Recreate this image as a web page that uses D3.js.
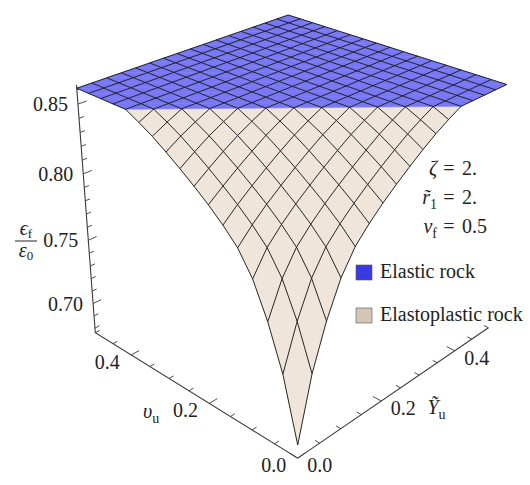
<!DOCTYPE html>
<html>
<head>
<meta charset="utf-8">
<title>Strain ratio surface</title>
<script src="https://cdn.jsdelivr.net/npm/d3@7"></script>
<style>
  body { margin: 0; background: #fff; }
  .axis { stroke: #3a3a3a; stroke-width: 1.1; fill: none; }
  .tick { stroke: #3a3a3a; stroke-width: 0.9; }
  .mesh { stroke: #1c1c1c; stroke-width: 0.95; fill: none; stroke-linejoin: round; }
  .lbl { font-family: "Liberation Serif", "DejaVu Serif", "Times New Roman", Times, serif; font-size: 20px; fill: #222; }
</style>
</head>
<body>
<div id="chart"></div>
<script>
// mesh positions on both horizontal axes (upsilon_u and Y_u), 16 cells
const meshSteps = [0, 0.03125, 0.0625, 0.09375, 0.125, 0.15625, 0.1875, 0.21875, 0.25,
  0.28125, 0.3125, 0.34375, 0.375, 0.40625, 0.4375, 0.46875, 0.5];

// eps_f / eps_0; the surface only depends on upsilon_u + Y_u,
// so it is listed by the number of mesh steps in that sum (0 .. 32)
const ratioBySum = [0.686, 0.731, 0.762, 0.786, 0.802, 0.8125, 0.8215, 0.8295, 0.837,
  0.844, 0.8505, 0.856, 0.861, 0.861, 0.861, 0.861, 0.861, 0.861, 0.861, 0.861, 0.861,
  0.861, 0.861, 0.861, 0.861, 0.861, 0.861, 0.861, 0.861, 0.861, 0.861, 0.861, 0.861];
const elasticFrom = 12; // step sum where the elastic plateau starts

const zTicks = [0.70, 0.75, 0.80, 0.85];
const zMinor = [0.68, 0.69, 0.71, 0.72, 0.73, 0.74, 0.76, 0.77, 0.78, 0.79, 0.81, 0.82, 0.83, 0.84, 0.86];
const hTicks = [0.0, 0.2, 0.4];
const hMinor = [0.05, 0.1, 0.15, 0.25, 0.3, 0.35, 0.45, 0.5];
const params = [["ζ", "", "2."], ["r\u0303", "1", "2."], ["ν", "f", "0.5"]];
const legendItems = [["Elastic rock", "#3b3be6"], ["Elastoplastic rock", "#d5c5b5"]];

const width = 530, height = 485;
const svg = d3.select("#chart").append("svg")
  .attr("width", width).attr("height", height)
  .attr("viewBox", [0, 0, width, height]);

// data -> box units
const xs = d3.scaleLinear().domain([0, 0.5]).range([0, 1]);
const ys = d3.scaleLinear().domain([0, 0.5]).range([0, 1]);
const zs = d3.scaleLinear().domain([0.6762, 0.8633]).range([0, 0.9607]);

// perspective camera looking at the box from the origin corner
const view = { az: 46.3, el: 24.3, dist: 3.844, camH: 2.543, focal: 1265, cx: 292.5, cy: 125.6 };
const rad = Math.PI / 180;
const ca = Math.cos(view.az * rad), sa = Math.sin(view.az * rad);
const ct = Math.cos(view.el * rad), st = Math.sin(view.el * rad);
const eye = [0.5 - view.dist * ca, 0.5 - view.dist * sa, view.camH];
const fwd = [ct * ca, ct * sa, -st], right = [-sa, ca, 0], up = [st * ca, st * sa, ct];

function project(a, b, c) {
  const p = [xs(a) - eye[0], ys(b) - eye[1], zs(c) - eye[2]];
  const dot = (q) => p[0] * q[0] + p[1] * q[1] + p[2] * q[2];
  const d = dot(fwd);
  return [view.cx + view.focal * dot(right) / d, view.cy - view.focal * dot(up) / d];
}

const zLo = zs.domain()[0], zHi = zs.domain()[1];
const line = d3.line();

// axes (box edges)
const gAxes = svg.append("g");
gAxes.append("path").attr("class", "axis")
  .attr("d", line([project(0, 0, zLo), project(0.5, 0, zLo), project(0.5, 0, zHi)]));
gAxes.append("path").attr("class", "axis")
  .attr("d", line([project(0, 0, zLo), project(0, 0.5, zLo)]));

// ticks
function tickSeg(p0, p1) {
  gAxes.append("path").attr("class", "tick").attr("d", line([p0, p1]));
}
zTicks.forEach((t) => tickSeg(project(0.5, 0, t), project(0.5, 0.018, t)));
zMinor.forEach((t) => tickSeg(project(0.5, 0, t), project(0.5, 0.01, t)));
hTicks.forEach((t) => {
  tickSeg(project(t, 0, zLo), project(t, 0.018, zLo));
  tickSeg(project(0, t, zLo), project(0.018, t, zLo));
});
hMinor.forEach((t) => {
  tickSeg(project(t, 0, zLo), project(t, 0.01, zLo));
  tickSeg(project(0, t, zLo), project(0.01, t, zLo));
});

// tick labels
const fz = d3.format(".2f"), fh = d3.format(".1f");
zTicks.forEach((t) => {
  const [x, y] = project(0.5, 0, t);
  svg.append("text").attr("class", "lbl").attr("x", x - 10).attr("y", y + 7)
    .attr("text-anchor", "end").text(fz(t));
});
hTicks.forEach((t) => {
  const [x1, y1] = project(t, 0, zLo);
  svg.append("text").attr("class", "lbl").attr("x", x1 - 24).attr("y", y1 + 14)
    .attr("text-anchor", "middle").text(fh(t));
  const [x2, y2] = project(0, t, zLo);
  svg.append("text").attr("class", "lbl").attr("x", x2 + 22).attr("y", y2 + 14)
    .attr("text-anchor", "middle").text(fh(t));
});

// axis titles
{
  const [x, y] = project(0.25, 0, zLo);
  const t = svg.append("text").attr("class", "lbl").attr("x", x - 46).attr("y", y + 27);
  t.append("tspan").attr("font-style", "italic").text("υ");
  t.append("tspan").attr("font-size", 14).attr("dy", 5).text("u");
}
{
  const [x, y] = project(0, 0.25, zLo);
  const t = svg.append("text").attr("class", "lbl").attr("x", x + 27).attr("y", y + 26);
  t.append("tspan").attr("font-style", "italic").text("Ỹ");
  t.append("tspan").attr("font-size", 14).attr("dy", 5).text("u");
}
{
  const g = svg.append("g");
  const n = g.append("text").attr("class", "lbl").attr("x", 26).attr("y", 235)
    .attr("text-anchor", "middle").attr("font-size", 19);
  n.append("tspan").attr("font-style", "italic").text("ϵ");
  n.append("tspan").attr("font-size", 13).attr("dy", 3).text("f");
  g.append("line").attr("x1", 15).attr("x2", 37).attr("y1", 241).attr("y2", 241)
    .attr("stroke", "#222").attr("stroke-width", 1);
  const dn = g.append("text").attr("class", "lbl").attr("x", 26).attr("y", 257)
    .attr("text-anchor", "middle").attr("font-size", 19);
  dn.append("tspan").attr("font-style", "italic").text("ε");
  dn.append("tspan").attr("font-size", 13).attr("dy", 3).text("0");
}

// surface: cells split along the lines of constant upsilon + Y
const n = meshSteps.length;
const P = (i, j) => project(meshSteps[i], meshSteps[j], ratioBySum[i + j]);
const tris = [];
for (let i = 0; i < n - 1; i++) {
  for (let j = 0; j < n - 1; j++) {
    tris.push({ pts: [P(i, j), P(i + 1, j), P(i, j + 1)], elastic: i + j >= elasticFrom });
    tris.push({ pts: [P(i + 1, j), P(i + 1, j + 1), P(i, j + 1)], elastic: i + j + 1 >= elasticFrom });
  }
}
const fillOf = (d) => (d.elastic ? "#7878f7" : "#efe5da");
svg.append("g").selectAll("path").data(tris).join("path")
  .attr("d", (d) => line(d.pts) + "Z")
  .attr("fill", fillOf).attr("stroke", fillOf).attr("stroke-width", 0.6);

const gMesh = svg.append("g");
d3.range(n).forEach((i) => {
  gMesh.append("path").attr("class", "mesh").attr("d", line(d3.range(n).map((j) => P(i, j))));
  gMesh.append("path").attr("class", "mesh").attr("d", line(d3.range(n).map((j) => P(j, i))));
});

// parameter annotation, aligned on "="
params.forEach(([sym, sub, val], k) => {
  const y = 175 + k * 29;
  const t = svg.append("text").attr("class", "lbl").attr("x", 437).attr("y", y).attr("text-anchor", "end");
  t.append("tspan").attr("font-style", "italic").text(sym);
  if (sub) t.append("tspan").attr("font-size", 14).attr("dy", 5).text(sub);
  svg.append("text").attr("class", "lbl").attr("x", 449).attr("y", y).attr("font-size", 24)
    .attr("text-anchor", "middle").text("=");
  svg.append("text").attr("class", "lbl").attr("x", 462).attr("y", y).text(val);
});

// legend
const leg = svg.append("g").attr("transform", "translate(356,265)");
legendItems.forEach(([name, col], k) => {
  const g = leg.append("g").attr("transform", `translate(0,${k * 43})`);
  g.append("rect").attr("width", 16).attr("height", 15).attr("fill", col)
    .attr("stroke", "#555").attr("stroke-width", 0.6);
  g.append("text").attr("class", "lbl").attr("x", 24).attr("y", 13).attr("font-size", 19).text(name);
});
</script>
</body>
</html>
